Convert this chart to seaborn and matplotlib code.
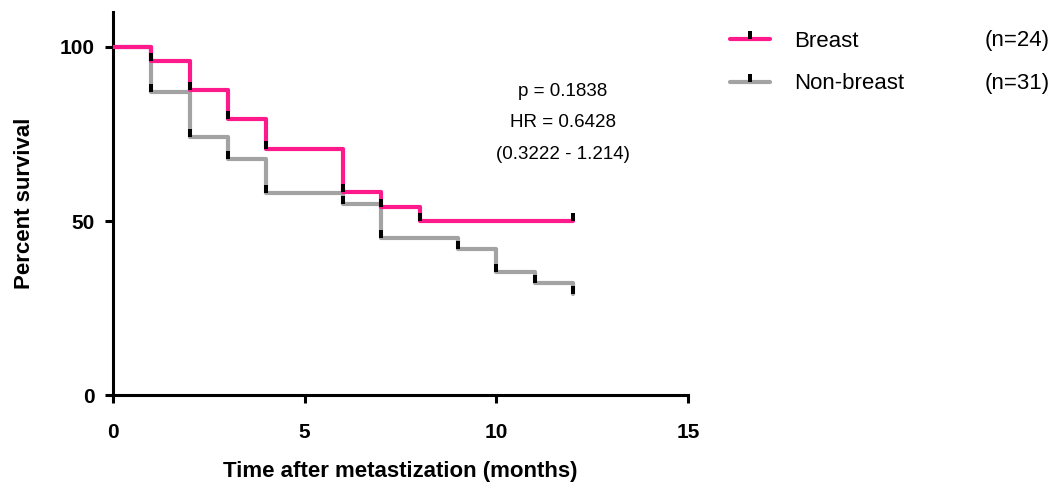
import matplotlib as mpl
import matplotlib.pyplot as plt
import numpy as np
import pandas as pd
import seaborn as sns
from matplotlib.lines import Line2D
from matplotlib.path import Path

mpl.use('Agg')

# Kaplan-Meier steps
breast_time = [0, 1, 2, 3, 4, 6, 7, 8, 12]
breast_surv = [100, 95.83, 87.5, 79.17, 70.83, 58.33, 54.17, 50.0, 50.0]
nonbreast_time = [0, 1, 2, 3, 4, 6, 7, 9, 10, 11, 12]
nonbreast_surv = [100, 87.10, 74.19, 67.74, 58.06, 54.84, 45.16, 41.94, 35.48, 32.26, 29.03]

group_names = ['Breast', 'Non-breast']
group_n = ['(n=24)', '(n=31)']
stats_lines = ['p = 0.1838', 'HR = 0.6428', '(0.3222 - 1.214)']

x_ticks = [0, 5, 10, 15]
y_ticks = [0, 50, 100]

colors = ['#FF1A8C', '#A3A3A3']

# general settings
sns.set_theme(style='ticks', rc={'axes.linewidth': 2.2, 'xtick.major.width': 2.2,
                                 'ytick.major.width': 2.2, 'xtick.major.size': 6,
                                 'ytick.major.size': 6, 'axes.edgecolor': 'black',
                                 'xtick.color': 'black', 'ytick.color': 'black',
                                 'text.color': 'black', 'axes.labelcolor': 'black'})
plt.rcParams['font.family'] = ['Liberation Sans', 'DejaVu Sans']

# tick mark marker sitting on top of the line
tick_marker = Path([(-0.5, 0), (0.5, 0), (0.5, 2), (-0.5, 2), (-0.5, 0)],
                   [Path.MOVETO, Path.LINETO, Path.LINETO, Path.LINETO, Path.CLOSEPOLY])

fig = plt.figure(figsize=(10.56, 4.86), dpi=100)
ax = fig.add_axes([0.107, 0.187, 0.5445, 0.788])

curves = [(breast_time, breast_surv), (nonbreast_time, nonbreast_surv)]
# draw grey first so pink lies on top
for idx in [1, 0]:
    t, s = curves[idx]
    df = pd.DataFrame({'time': t, 'surv': s})
    sns.lineplot(data=df, x='time', y='surv', ax=ax, color=colors[idx], linewidth=3,
                 drawstyle='steps-post', legend=False, zorder=2 + (1 - idx))
for idx in [1, 0]:
    t, s = curves[idx]
    df = pd.DataFrame({'time': t[1:], 'surv': s[1:]})
    sns.scatterplot(data=df, x='time', y='surv', ax=ax, marker=tick_marker, s=133,
                    color='black', linewidth=0, legend=False, zorder=5)

ax.set_xlim(0, 15)
ax.set_ylim(0, 110)
ax.set_xticks(x_ticks)
ax.set_yticks(y_ticks)
ax.spines['top'].set_visible(False)
ax.spines['right'].set_visible(False)
for lab in ax.get_xticklabels() + ax.get_yticklabels():
    lab.set_fontweight('bold')
    lab.set_fontsize(15)
ax.tick_params(axis='x', pad=14)
ax.tick_params(axis='y', pad=7)
ax.set_xlabel('Time after metastization (months)', fontsize=16, fontweight='bold', labelpad=14)
ax.set_ylabel('Percent survival', fontsize=16, fontweight='bold', labelpad=18)

# stats annotation
for text, y in zip(stats_lines, [87.1, 78.2, 69.0]):
    ax.text(11.74, y, text, ha='center', va='center', fontsize=13.5)

# legend
handles = [Line2D([], [], color=c, linewidth=3, marker=tick_marker, markersize=11.5,
                  markerfacecolor='black', markeredgewidth=0) for c in colors]
leg = fig.legend(handles, group_names, loc='upper left', bbox_to_anchor=(0.683, 0.955),
                 frameon=False, fontsize=16, handlelength=1.8, handletextpad=1.1,
                 labelspacing=0.97, borderaxespad=0)
fig.text(0.994, 0.917, group_n[0], ha='right', va='center', fontsize=16)
fig.text(0.994, 0.829, group_n[1], ha='right', va='center', fontsize=16)

plt.savefig('out.png', dpi=100)
plt.close()
